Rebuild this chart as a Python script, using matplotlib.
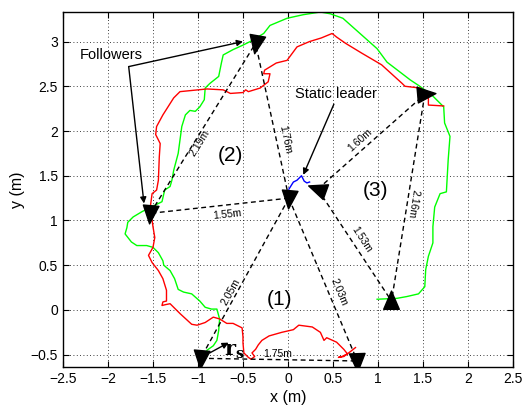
import matplotlib
matplotlib.use("Agg")
import matplotlib.pyplot as plt
from matplotlib.markers import MarkerStyle
from matplotlib.transforms import Affine2D
from matplotlib.path import Path
import numpy as np

plt.rcParams['font.family'] = ['Liberation Sans', 'DejaVu Sans']

# ---------------- data ----------------
green_x = [-0.90, -0.83, -0.79, -0.77, -0.76, -0.79, -0.85, -0.92, -0.98, -1.07, -1.16, -1.22, -1.26,
           -1.31, -1.38, -1.39, -1.44, -1.50, -1.57, -1.68, -1.74, -1.81, -1.79, -1.78, -1.72, -1.62,
           -1.46, -1.40, -1.37, -1.31, -1.29, -1.27, -1.22, -1.20, -1.18, -1.14, -1.09, -1.03, -0.98,
           -0.93, -0.92, -0.87, -0.77, -0.74, -0.72, -0.61, -0.50, -0.42, -0.27, -0.20, -0.01, 0.17,
           0.36, 0.47, 0.61, 0.80, 0.99, 1.10, 1.36, 1.45, 1.60, 1.73, 1.74, 1.80, 1.78, 1.76, 1.69,
           1.63, 1.61, 1.61, 1.56, 1.53, 1.52, 1.45, 1.32, 1.21, 0.99]
green_y = [-0.45, -0.40, -0.34, -0.23, -0.10, 0.01, 0.01, 0.03, 0.10, 0.18, 0.20, 0.23, 0.35,
           0.44, 0.50, 0.55, 0.64, 0.70, 0.72, 0.72, 0.76, 0.85, 0.92, 0.98, 1.04, 1.10,
           1.18, 1.21, 1.34, 1.38, 1.45, 1.56, 1.75, 1.90, 2.05, 2.18, 2.23, 2.22, 2.27,
           2.35, 2.48, 2.53, 2.61, 2.76, 2.85, 2.91, 2.96, 3.00, 3.09, 3.18, 3.26, 3.30,
           3.33, 3.31, 3.26, 3.09, 2.92, 2.77, 2.57, 2.51, 2.40, 2.27, 2.09, 1.94, 1.68, 1.32, 1.30,
           1.15, 0.93, 0.75, 0.60, 0.45, 0.26, 0.18, 0.15, 0.13, 0.12]

red_x = [0.75, 0.70, 0.66, 0.60, 0.56, 0.62, 0.66, 0.62, 0.54, 0.43, 0.40, 0.36, 0.27, 0.12, 0.06,
         -0.07, -0.21, -0.29, -0.33, -0.36, -0.40, -0.37, -0.41, -0.44, -0.49, -0.50, -0.50, -0.51,
         -0.53, -0.61, -0.68, -0.76, -0.83, -0.92, -1.01, -1.07, -1.20, -1.31, -1.36, -1.40, -1.39,
         -1.35, -1.35, -1.39, -1.44, -1.51, -1.55, -1.50, -1.48, -1.50, -1.53, -1.51, -1.46, -1.44,
         -1.43, -1.42, -1.47, -1.46, -1.39, -1.27, -1.20, -0.90, -0.72, -0.64, -0.50, -0.47, -0.44,
         -0.31, -0.22, -0.20, -0.27, -0.26, -0.13, -0.01, 0.10, 0.24, 0.37, 0.49, 0.54, 0.64, 0.82,
         1.04, 1.27, 1.30, 1.47, 1.56, 1.56, 1.73]
red_y = [-0.42, -0.46, -0.49, -0.52, -0.53, -0.52, -0.49, -0.44, -0.36, -0.31, -0.34, -0.25, -0.19,
         -0.17, -0.22, -0.25, -0.29, -0.34, -0.39, -0.44, -0.48, -0.52, -0.55, -0.53, -0.48, -0.37,
         -0.30, -0.20, -0.19, -0.15, -0.15, -0.10, -0.08, -0.14, -0.17, -0.16, -0.04, 0.07, 0.06,
         0.05, 0.09, 0.10, 0.22, 0.35, 0.44, 0.53, 0.61, 0.70, 0.81, 0.93, 1.15, 1.30, 1.34, 1.45,
         1.71, 1.86, 1.96, 2.05, 2.18, 2.37, 2.44, 2.47, 2.46, 2.42, 2.43, 2.46, 2.44, 2.48, 2.55,
         2.64, 2.64, 2.68, 2.76, 2.79, 2.94, 3.00, 3.04, 3.09, 3.05, 2.98, 2.87, 2.74, 2.53, 2.50,
         2.48, 2.37, 2.29, 2.28]

blue_x = [0.01, 0.06, 0.10, 0.15, 0.18, 0.21, 0.24]
blue_y = [1.35, 1.43, 1.45, 1.50, 1.44, 1.42, 1.43]

# robots: center, right-of-center, top, right, left, bottom-left, bottom-right, bottom-mid
robot_x = [0.01, 0.33, -0.36, 1.52, -1.53, -0.97, 0.77, 1.15]
robot_y = [1.25, 1.35, 2.98, 2.41, 1.08, -0.54, -0.57, 0.10]
robot_heading = [-95, 160, -100, 5, -95, -95, -88, 90]

edges = [(0, 4), (0, 2), (4, 2), (1, 3), (3, 7), (1, 7), (0, 6), (0, 5), (5, 6)]
edge_labels = ['1.55m', '1.76m', '2.19m', '1.60m', '2.16m', '1.53m', '2.03m', '2.05m', '1.75m']
label_x = [-0.68, -0.03, -0.98, 0.80, 1.39, 0.82, 0.56, -0.64, -0.12]
label_y = [1.07, 1.90, 1.87, 1.90, 1.19, 0.79, 0.20, 0.20, -0.49]
label_rot = [6, -78, 58, 42, -99, -57, -67, 61, 0]

x_ticks = [-2.5, -2, -1.5, -1, -0.5, 0, 0.5, 1, 1.5, 2, 2.5]
y_ticks = [-0.5, 0, 0.5, 1, 1.5, 2, 2.5, 3]

# ---------------- figure ----------------
fig = plt.figure(figsize=(5.24, 4.07), dpi=100)
ax = fig.add_axes([0.1202, 0.0990, 0.8588, 0.8715])

ax.plot(green_x, green_y, color='#00ff00', lw=1.0, zorder=2)
ax.plot(red_x, red_y, color='#ff0000', lw=1.0, zorder=2)
ax.plot(blue_x, blue_y, color='#0000ff', lw=1.0, zorder=2)

for (i, j) in edges:
    ax.plot([robot_x[i], robot_x[j]], [robot_y[i], robot_y[j]], color='black',
            ls=(0, (3.5, 2.5)), lw=1.0, zorder=3)

for txt, lx, ly, r in zip(edge_labels, label_x, label_y, label_rot):
    ax.text(lx, ly, txt, fontsize=7.5, rotation=r, ha='center', va='center',
            rotation_mode='anchor', zorder=4)

tri = Path([(0, 1), (-0.75, -0.75), (0.75, -0.75), (0, 1)],
           [Path.MOVETO, Path.LINETO, Path.LINETO, Path.CLOSEPOLY])
for x, y, h in zip(robot_x, robot_y, robot_heading):
    m = MarkerStyle(tri, transform=Affine2D().rotate_deg(h - 90))
    ax.plot([x], [y], marker=m, ms=15, color='black', mec='black', ls='none', zorder=5)

# region labels
ax.text(-0.09, 0.12, '(1)', fontsize=15, ha='center', va='center', zorder=4)
ax.text(-0.64, 1.73, '(2)', fontsize=15, ha='center', va='center', zorder=4)
ax.text(0.97, 1.34, '(3)', fontsize=15, ha='center', va='center', zorder=4)

arrow_kw = dict(arrowstyle='-|>', color='black', lw=1.0, mutation_scale=9, shrinkA=0, shrinkB=0)
ax.text(-1.96, 2.85, 'Followers', fontsize=10.5, ha='center', va='center', zorder=6)
ax.annotate('', xy=(-0.50, 3.00), xytext=(-1.77, 2.72), arrowprops=arrow_kw, zorder=6)
ax.annotate('', xy=(-1.60, 1.19), xytext=(-1.77, 2.72), arrowprops=arrow_kw, zorder=6)

ax.text(0.53, 2.41, 'Static leader', fontsize=10.5, ha='center', va='center', zorder=6)
ax.annotate('', xy=(0.17, 1.51), xytext=(0.51, 2.30), arrowprops=arrow_kw, zorder=6)

ax.annotate('', xy=(-0.66, -0.365), xytext=(-0.87, -0.48), arrowprops=arrow_kw, zorder=6)
ax.text(-0.59, -0.46, r'$\mathbf{r}_{\mathbf{s}}$', fontsize=15, ha='center', va='center',
        math_fontfamily='dejavuserif', zorder=6)

ax.set_xlim(-2.5, 2.5)
ax.set_ylim(-0.634, 3.33)
ax.set_xticks(x_ticks)
ax.set_yticks(y_ticks)
ax.set_xticklabels([('%g' % v).replace('-', '\u2212') for v in x_ticks])
ax.set_yticklabels([('%g' % v).replace('-', '\u2212') for v in y_ticks])
ax.tick_params(direction='in', top=True, right=True, labelsize=10, length=4, width=0.8)
ax.grid(True, ls=(0, (1, 3)), color='black', lw=0.6)
for s in ax.spines.values():
    s.set_linewidth(1.0)
ax.set_xlabel('x (m)', fontsize=11.5, labelpad=3)
ax.set_ylabel('y (m)', fontsize=11.5, labelpad=4)

fig.savefig('out.png', dpi=100)
